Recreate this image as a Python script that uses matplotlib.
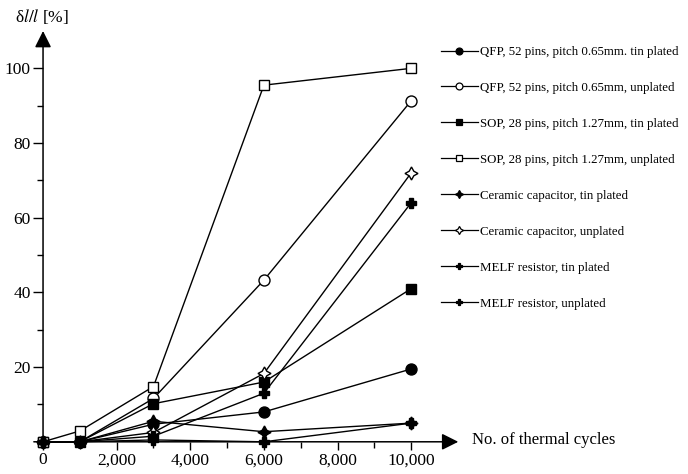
import matplotlib
matplotlib.use("Agg")
import matplotlib.pyplot as plt
from matplotlib.lines import Line2D

plt.rcParams["font.family"] = ["Liberation Serif", "DejaVu Serif"]
plt.rcParams["mathtext.fontset"] = "stix"

# thermal cycles at which the samples were measured
cycles = [0, 1000, 3000, 6000, 10000]

qfp_tin = [0, 0, 4.7, 8, 19.5]
qfp_unplated = [0, 0, 11.6, 43.3, 91.3]
sop_tin = [0, 0, 10.2, 16, 41]
sop_unplated = [0, 2.9, 14.8, 95.5, 100]
ceramic_tin = [0, 0, 5.5, 2.7, 5]
ceramic_unplated = [0, 0, 2.5, 18.3, 72]
melf_tin = [0, 0, 1.5, 13, 64]
melf_unplated = [0, 0, 0.5, 0, 5]

labels = [
    "QFP, 52 pins, pitch 0.65mm. tin plated",
    "QFP, 52 pins, pitch 0.65mm, unplated",
    "SOP, 28 pins, pitch 1.27mm, tin plated",
    "SOP, 28 pins, pitch 1.27mm, unplated",
    "Ceramic capacitor, tin plated",
    "Ceramic capacitor, unplated",
    "MELF resistor, tin plated",
    "MELF resistor, unplated",
]
series = [qfp_tin, qfp_unplated, sop_tin, sop_unplated,
          ceramic_tin, ceramic_unplated, melf_tin, melf_unplated]

star4 = (4, 1, 0)
styles = [
    ("o", "black", 11), ("o", "white", 11),
    ("s", "black", 10), ("s", "white", 10),
    (star4, "black", 13), (star4, "white", 13),
    ("P", "black", 10), ("P", "black", 10),
]

fig = plt.figure(figsize=(6.88, 4.74), dpi=100)
ax = fig.add_axes([32 / 688, 21 / 474, 427 / 688, 422 / 474])

handles = []
for values, label, (marker, face, size) in zip(series, labels, styles):
    ax.plot(cycles, values, color="black", lw=1.0, marker=marker,
            markersize=size * 0.72, markerfacecolor=face,
            markeredgecolor="black", markeredgewidth=1.0, clip_on=False, zorder=3)
    handles.append(Line2D([], [], color="black", lw=0.9, marker=marker,
                          markersize=size * 0.45, markerfacecolor=face,
                          markeredgecolor="black", markeredgewidth=0.9))

ax.set_xlim(-300, 11300)
ax.set_ylim(-3, 110)

for side in ["top", "right"]:
    ax.spines[side].set_visible(False)
ax.spines["left"].set_position(("data", 0))
ax.spines["bottom"].set_position(("data", 0))
ax.spines["left"].set_color("none")
ax.spines["bottom"].set_color("none")

# axes drawn as arrows
arrow = dict(arrowstyle="-|>,head_length=1.0,head_width=0.5", color="black",
             lw=1.1, shrinkA=0, shrinkB=0, mutation_scale=10)
ax.annotate("", xy=(0, 110), xytext=(0, -1.5), arrowprops=arrow, annotation_clip=False)
ax.annotate("", xy=(11280, 0), xytext=(-250, 0), arrowprops=arrow, annotation_clip=False)

ax.set_xticks([0, 2000, 4000, 6000, 8000, 10000])
ax.set_xticklabels(["0", "2,000", "4,000", "6,000", "8,000", "10,000"])
ax.set_xticks([1000, 3000, 5000, 7000, 9000], minor=True)
ax.set_yticks([20, 40, 60, 80, 100])
ax.set_yticks([10, 30, 50, 70, 90], minor=True)
ax.tick_params(which="major", length=7, width=1.0, labelsize=12.5, direction="out",
               color="black")
ax.tick_params(which="minor", length=4, width=1.0, direction="out", color="black")
ax.tick_params(axis="x", which="major", length=5.5, pad=2)
ax.tick_params(axis="y", which="major", pad=2)

fig.text(15 / 688, 1 - 17 / 474, r"δ$l/l$ [%]", fontsize=12.5, va="center", ha="left")
fig.text(472 / 688, 1 - 440 / 474, "No. of thermal cycles", fontsize=12,
         va="center", ha="left")

fig.legend(handles, labels, loc="upper left", bbox_to_anchor=(441 / 688, 1 - 46 / 474),
           frameon=False, fontsize=9.3, labelspacing=1.85, handlelength=2.85,
           handletextpad=0.2, borderaxespad=0, borderpad=0)

fig.savefig("out.png", dpi=100)
